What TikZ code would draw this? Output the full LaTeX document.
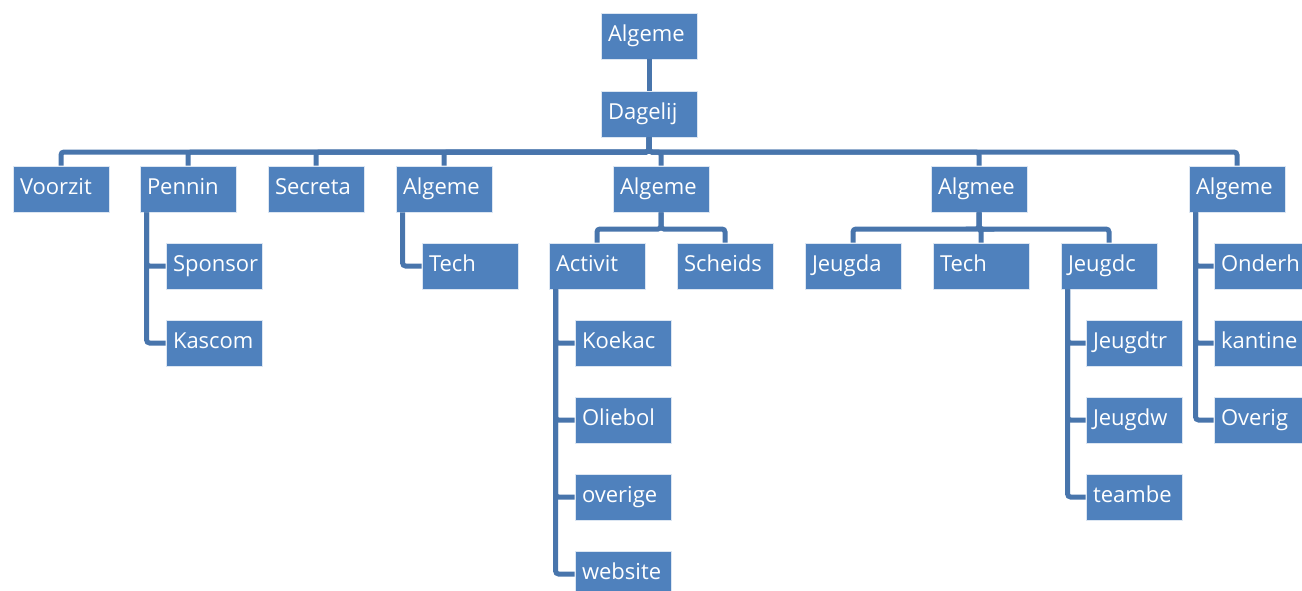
\documentclass[tikz,border=0pt]{standalone}
\usepackage{fontspec}
\setmainfont{Open Sans}
\usetikzlibrary{calc}
\definecolor{boxblue}{RGB}{79,129,189}
\definecolor{lineblue}{RGB}{72,117,172}

\begin{document}
\begin{tikzpicture}[x=1pt,y=-1pt,
  box/.style={fill=boxblue,draw=white!80!boxblue,line width=.8pt,text=white,font=\fontsize{22}{24}\selectfont,
    minimum width=96pt,minimum height=46pt,text width=82pt,text height=15pt,text depth=4pt,inner xsep=7pt,inner ysep=0pt,align=left},
  link/.style={draw=lineblue,line width=5pt,rounded corners=3pt}]
\useasboundingbox (0,0) rectangle (1302,590);
\node[box] (top) at (649,36) {Algeme};
\node[box] (dag) at (649,114) {Dagelij};
\node[box] (voorzit) at (61,189) {Voorzit};
\node[box] (pennin) at (188,189) {Pennin};
\node[box] (secreta) at (316,189) {Secreta};
\node[box] (algA) at (444,189) {Algeme};
\node[box] (algB) at (661,189) {Algeme};
\node[box] (algmee) at (979,189) {Algmee};
\node[box] (algC) at (1237,189) {Algeme};
\node[box] (sponsor) at (214,266) {Sponsor};
\node[box] (kascom) at (214,343) {Kascom};
\node[box] (techA) at (470,266) {Tech};
\node[box] (activit) at (597,266) {Activit};
\node[box] (scheids) at (725,266) {Scheids};
\node[box] (koekac) at (623,343) {Koekac};
\node[box] (oliebol) at (623,420) {Oliebol};
\node[box] (overige) at (623,497) {overige};
\node[box] (website) at (623,574) {website};
\node[box] (jeugda) at (853,266) {Jeugda};
\node[box] (techB) at (981,266) {Tech};
\node[box] (jeugdc) at (1109,266) {Jeugdc};
\node[box] (jeugdtr) at (1134,343) {Jeugdtr};
\node[box] (jeugdw) at (1134,420) {Jeugdw};
\node[box] (teambe) at (1134,497) {teambe};
\node[box] (onderh) at (1262,266) {Onderh};
\node[box] (kantine) at (1262,343) {kantine};
\node[box] (overig) at (1262,420) {Overig};
% top level
\draw[link] (top) -- (dag);
\coordinate (bus) at (649,152);
\foreach \n in {voorzit,pennin,secreta,algA,algB,algmee,algC}
  \draw[link] (dag.south) -- (bus) -| (\n.north);
% sub busses
\coordinate (busB) at (661,229);
\coordinate (busM) at (979,229);
\foreach \n in {activit,scheids} \draw[link] (algB.south) -- (busB) -| (\n.north);
\foreach \n in {jeugda,techB,jeugdc} \draw[link] (algmee.south) -- (busM) -| (\n.north);
% hanging lists
\foreach \p/\c in {pennin/sponsor,pennin/kascom,algA/techA,activit/koekac,activit/oliebol,activit/overige,activit/website,jeugdc/jeugdtr,jeugdc/jeugdw,jeugdc/teambe,algC/onderh,algC/kantine,algC/overig}
  \draw[link] ($(\p.south west)+(7,0)$) |- (\c.west);
\end{tikzpicture}
\end{document}
